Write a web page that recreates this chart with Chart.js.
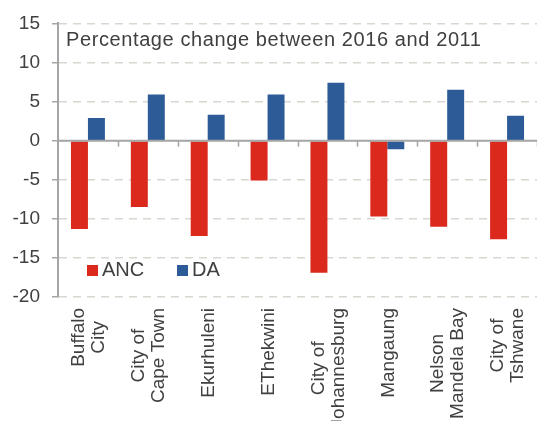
<!DOCTYPE html>
<html>
<head>
<meta charset="utf-8">
<script src="https://cdn.jsdelivr.net/npm/chart.js@4.4.1/dist/chart.umd.min.js"></script>
<style>
  html, body { margin: 0; padding: 0; background: #fff; }
  #wrap { width: 537px; height: 421px; }
</style>
</head>
<body>
<div id="wrap"><canvas id="grafico" width="537" height="421"></canvas></div>
<script>
/* ===================== DATOS ===================== */
const municipios = [
  ["Buffalo", "City"],
  ["City of", "Cape Town"],
  ["Ekurhuleni"],
  ["EThekwini"],
  ["City of", "Johannesburg"],
  ["Mangaung"],
  ["Nelson", "Mandela Bay"],
  ["City of", "Tshwane"],
];
const anc = [-11.3, -8.5, -12.2, -5.1, -16.9, -9.7, -11.0, -12.6];
const da = [2.9, 5.9, 3.3, 5.9, 7.4, -1.1, 6.5, 3.2];
const ticksY = [15, 10, 5, 0, -5, -10, -15, -20];
const titulo = "Percentage change between 2016 and 2011";

/* ===================== ESTILO ===================== */
const fuente = "'Liberation Sans', Arial, sans-serif";
const gris = "#404040";
const ejeColor = "#a6a6a6";
const rojo = "#dc291e";
const azul = "#2d5b98";

/* ===================== PLUGIN: eje cero, etiquetas, leyenda ===================== */
const extras = {
  id: "extras",
  afterDatasetsDraw(chart) {
    const ctx = chart.ctx;
    const x = chart.scales.x;
    const y = chart.scales.y;
    const area = chart.chartArea;
    const y0 = y.getPixelForValue(0);
    const paso = x.getPixelForValue(1) - x.getPixelForValue(0);

    ctx.save();
    // linea del cero
    ctx.strokeStyle = ejeColor;
    ctx.lineWidth = 2;
    ctx.beginPath();
    ctx.moveTo(area.left, y0);
    ctx.lineTo(area.right, y0);
    ctx.stroke();

    // marcas entre categorias
    ctx.lineWidth = 1.5;
    for (let i = 0; i < municipios.length; i++) {
      const bx = x.getPixelForValue(i) + paso / 2;
      ctx.beginPath();
      ctx.moveTo(Math.round(bx) + 0.5, y0);
      ctx.lineTo(Math.round(bx) + 0.5, y0 + 6);
      ctx.stroke();
    }

    // titulo dentro del grafico
    ctx.fillStyle = gris;
    ctx.font = "20px " + fuente;
    ctx.letterSpacing = "0.6px";
    ctx.textAlign = "left";
    ctx.textBaseline = "alphabetic";
    ctx.fillText(titulo, 66, 46);
    ctx.letterSpacing = "0px";

    // etiquetas del eje x (rotadas, centradas por linea)
    ctx.font = "19px " + fuente;
    const topY = 308;
    const lh = 20;
    municipios.forEach((lineas, i) => {
      const cx = x.getPixelForValue(i);
      const maxW = Math.max(...lineas.map((l) => ctx.measureText(l).width));
      ctx.save();
      ctx.translate(cx, topY);
      ctx.rotate(-Math.PI / 2);
      ctx.textAlign = "center";
      ctx.textBaseline = "middle";
      lineas.forEach((l, k) => {
        ctx.fillText(l, -maxW / 2, (k - (lineas.length - 1) / 2) * lh + 1);
      });
      ctx.restore();
    });

    // leyenda
    ctx.font = "20px " + fuente;
    const items = chart.data.datasets.map((d) => ({ t: d.label, c: d.backgroundColor }));
    const lx = [87, 177];
    items.forEach((it, i) => {
      ctx.fillStyle = it.c;
      ctx.fillRect(lx[i], 265, 11, 11);
      ctx.fillStyle = gris;
      ctx.textAlign = "left";
      ctx.textBaseline = "alphabetic";
      ctx.fillText(it.t, lx[i] + 15, 275.5);
    });
    ctx.restore();
  },
};

/* ===================== GRAFICO ===================== */
new Chart(document.getElementById("grafico"), {
  type: "bar",
  data: {
    labels: municipios,
    datasets: [
      { label: "ANC", data: anc, backgroundColor: rojo, borderWidth: 0 },
      { label: "DA", data: da, backgroundColor: azul, borderWidth: 0 },
    ],
  },
  plugins: [extras],
  options: {
    responsive: false,
    animation: false,
    devicePixelRatio: 1,
    layout: { padding: { top: 21, right: 0, bottom: 124, left: 0 } },
    categoryPercentage: 0.567,
    barPercentage: 1,
    plugins: {
      legend: { display: false },
      tooltip: { enabled: false },
    },
    scales: {
      x: { display: false },
      y: {
        min: -20,
        max: 15,
        afterFit: (s) => { s.width = 58; },
        afterBuildTicks: (s) => { s.ticks = ticksY.map((v) => ({ value: v })); },
        ticks: {
          color: gris,
          font: { family: fuente, size: 19 },
          padding: 12,
        },
        grid: {
          color: "#d9d7cf",
          lineWidth: 1.5,
          tickLength: 6,
          tickColor: ejeColor,
          tickBorderDash: [],
        },
        border: { display: true, color: ejeColor, width: 2, dash: [8, 6] },
      },
    },
  },
});
</script>
</body>
</html>
